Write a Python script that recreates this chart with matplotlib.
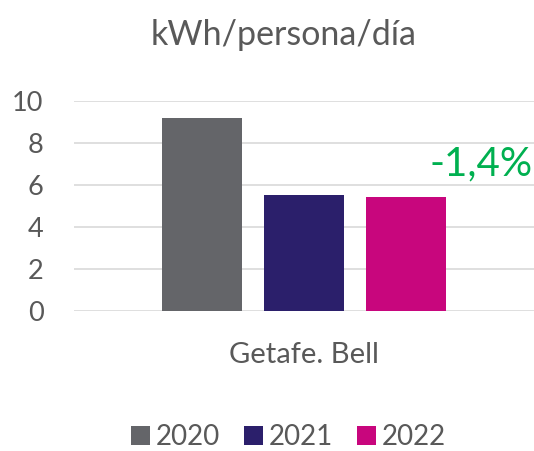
import matplotlib.pyplot as plt

plt.rcParams['font.family'] = ['Lato', 'DejaVu Sans']

category = 'Getafe. Bell'
years = ['2020', '2021', '2022']
values = [9.2, 5.5, 5.42]
colors = ['#646569', '#2B1F6B', '#C8067D']
change_label = '-1,4%'

TEXT = '#595959'

fig = plt.figure(figsize=(5.34, 4.51), dpi=100)
ax = fig.add_axes([0.1386, 0.3104, 0.8614, 0.4663])

offsets = [-1, 0, 1]
for off, year, val, col in zip(offsets, years, values, colors):
    ax.bar(off, val, width=0.79, color=col, label=year, zorder=3)

ax.set_xlim(-2.255, 2.255)
ax.set_ylim(0, 10)
ax.set_yticks(range(0, 11, 2))
ax.yaxis.grid(True, color='#D9D9D9', linewidth=1.2, zorder=0)
ax.set_xticks([0])
ax.set_xticklabels([category])
ax.tick_params(axis='both', length=0, colors=TEXT, labelsize=19.5)
ax.tick_params(axis='x', labelsize=21, pad=22)
ax.tick_params(axis='y', pad=22)
for s in ax.spines.values():
    s.set_visible(False)

ax.text(2.24, 7.0, change_label, color='#00B050', fontsize=29,
        ha='right', va='center', clip_on=False)

fig.text(0.531, 1 - 35 / 451, 'kWh/persona/día', ha='center', va='center',
         fontsize=24.5, color=TEXT)

fig.legend(loc='center', bbox_to_anchor=(0.54, 1 - 437 / 451), ncol=3,
           frameon=False, fontsize=20, labelcolor=TEXT, handlelength=0.7,
           handleheight=0.7, handletextpad=0.2, columnspacing=0.85)

fig.savefig('out.png', dpi=100)
